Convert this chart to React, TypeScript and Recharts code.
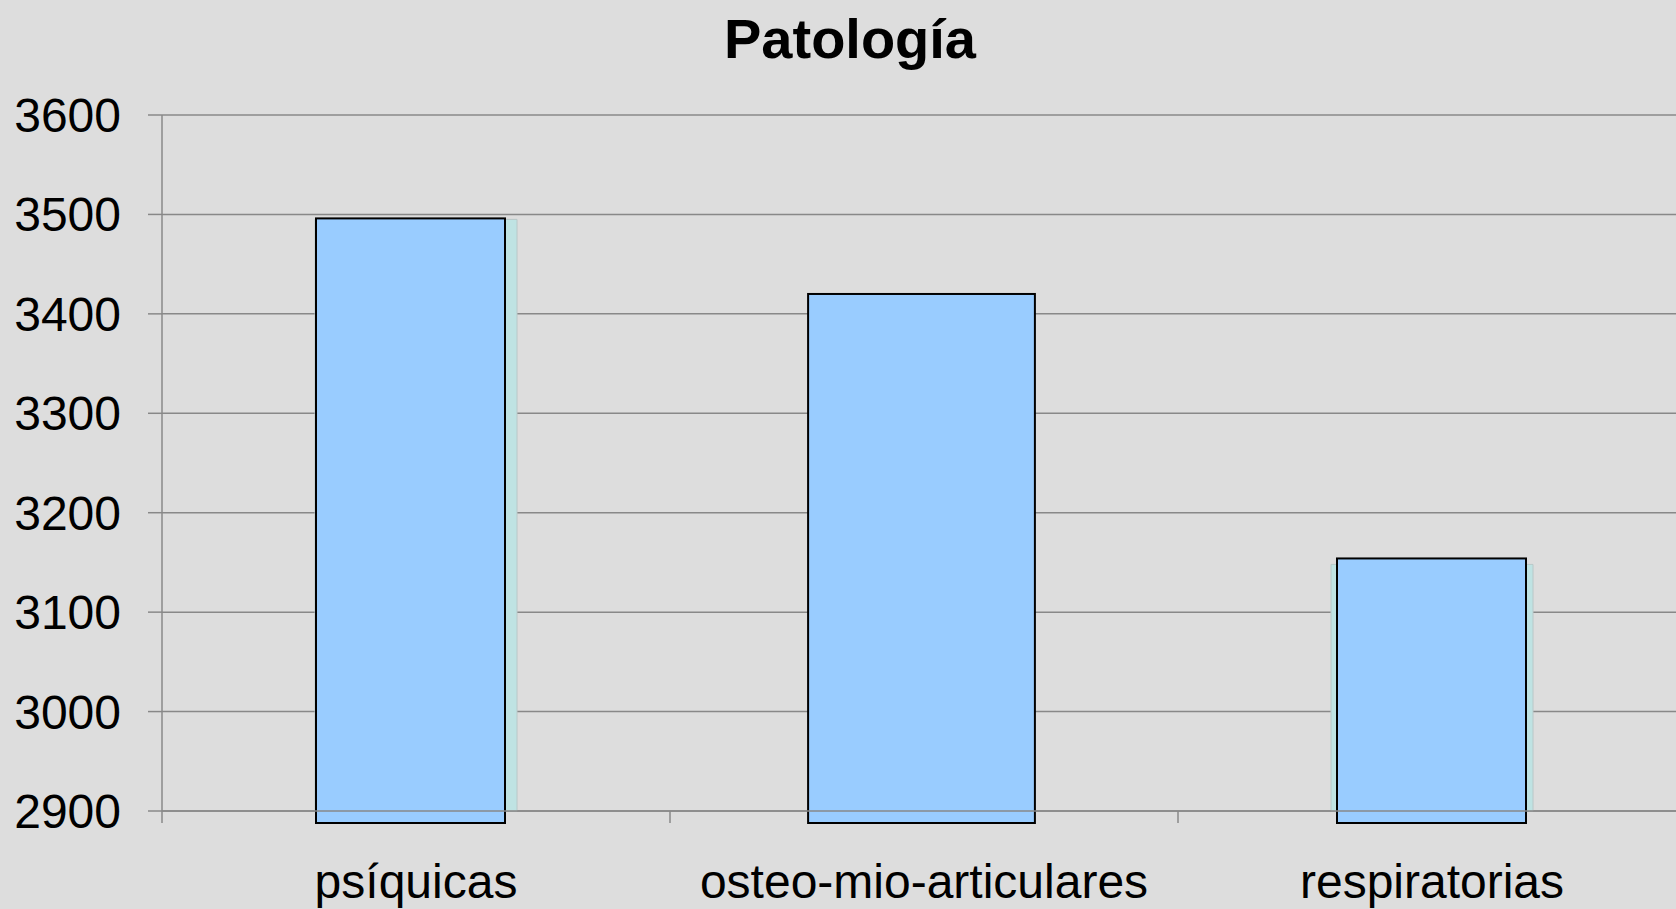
import { BarChart, Bar, XAxis, YAxis, CartesianGrid } from "recharts";

const categories = ["psíquicas", "osteo-mio-articulares", "respiratorias"];
const casos = [3496, 3420, 3154];
const sombra = [3495, 3418, 3148];
const yTicks = [2900, 3000, 3100, 3200, 3300, 3400, 3500, 3600];

const chartData = categories.map((name, i) => ({
    name,
    casos: casos[i],
    sombra: sombra[i],
}));

const CHART_W = 1700;
const CHART_H = 909;
const MARGIN = { top: 115, right: 14, left: 0, bottom: 0 };
const Y_AXIS_W = 162;
const X_AXIS_H = 98;
const PLOT_W = CHART_W - MARGIN.left - MARGIN.right - Y_AXIS_W;
const PLOT_BOTTOM = CHART_H - MARGIN.bottom - X_AXIS_H;
const HALF_BAND = PLOT_W / categories.length / 2;

const FONT = '"Liberation Sans", Arial, sans-serif';
const GRID = "#888888";

// the original draws the middle bar wider and nudges the bars left of their shadow
const widthFactor = [1, 1.2, 1];
const nudge = [-6, -3, -1];

function MainBar(props: any) {
    const { x, y, width, height, index } = props;
    const w = width * (widthFactor[index] ?? 1);
    const cx = x + width / 2 + (nudge[index] ?? 0);
    return (
        <rect
            x={cx - w / 2}
            y={y}
            width={w}
            height={height + 12}
            fill="#99CCFF"
            stroke="#000000"
            strokeWidth={2}
        />
    );
}

function CategoryTick(props: any) {
    const { x, payload, index } = props;
    const last = index === categories.length - 1;
    return (
        <g>
            <line
                x1={x - HALF_BAND}
                x2={x - HALF_BAND}
                y1={PLOT_BOTTOM}
                y2={PLOT_BOTTOM + 12}
                stroke={GRID}
                strokeWidth={1.5}
            />
            {last && (
                <line
                    x1={x + HALF_BAND}
                    x2={x + HALF_BAND}
                    y1={PLOT_BOTTOM}
                    y2={PLOT_BOTTOM + 12}
                    stroke={GRID}
                    strokeWidth={1.5}
                />
            )}
            <text
                x={x}
                y={PLOT_BOTTOM + 87}
                textAnchor="middle"
                fontFamily={FONT}
                fontSize={48}
                fill="#000000"
            >
                {payload.value}
            </text>
        </g>
    );
}

export default function App() {
    return (
        <div
            style={{
                position: "fixed",
                left: 0,
                top: 0,
                width: 1676,
                height: 909,
                overflow: "hidden",
                background: "#DDDDDD",
            }}
        >
            <div
                style={{
                    position: "absolute",
                    left: 0,
                    top: 11,
                    width: CHART_W,
                    textAlign: "center",
                    fontFamily: FONT,
                    fontWeight: "bold",
                    fontSize: 56,
                    lineHeight: "56px",
                    color: "#000000",
                }}
            >
                Patología
            </div>
            <BarChart
                width={CHART_W}
                height={CHART_H}
                data={chartData}
                margin={MARGIN}
            >
                <CartesianGrid
                    vertical={false}
                    stroke={GRID}
                    strokeWidth={1.5}
                />
                <XAxis
                    xAxisId="sombra"
                    dataKey="name"
                    hide
                />
                <XAxis
                    xAxisId="main"
                    dataKey="name"
                    height={X_AXIS_H}
                    axisLine={{ stroke: GRID, strokeWidth: 1.5 }}
                    tickLine={false}
                    tick={<CategoryTick />}
                    interval={0}
                />
                <YAxis
                    width={Y_AXIS_W}
                    domain={[2900, 3600]}
                    ticks={yTicks}
                    axisLine={{ stroke: GRID, strokeWidth: 1.5 }}
                    tickLine={{ stroke: GRID, strokeWidth: 1.5 }}
                    tickSize={14}
                    tickMargin={27}
                    tick={{ fill: "#000000", fontSize: 48, fontFamily: FONT }}
                />
                <Bar
                    xAxisId="sombra"
                    dataKey="sombra"
                    barSize={202}
                    fill="#BFE3E3"
                    stroke="#B8C8C8"
                    strokeWidth={1}
                    isAnimationActive={false}
                />
                <Bar
                    xAxisId="main"
                    dataKey="casos"
                    barSize={189}
                    shape={<MainBar />}
                    isAnimationActive={false}
                />
            </BarChart>
        </div>
    );
}
